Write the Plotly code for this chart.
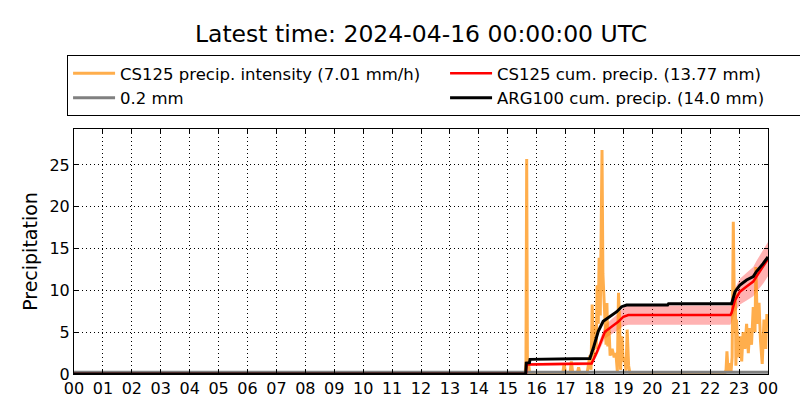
import plotly.graph_objects as go

# ---- data (hours since 2024-04-15 00:00 UTC) ----
int_t = [0, 15.60, 15.63, 15.655, 15.68, 15.72, 15.76, 16.90, 16.95, 17.00, 17.15, 17.20, 17.25,
         17.40, 17.45, 17.50, 17.74, 17.78, 17.84, 17.88, 17.92, 17.97, 18.01, 18.06, 18.09,
         18.13, 18.16, 18.20, 18.26, 18.29, 18.33, 18.36, 18.40, 18.43, 18.46, 18.50, 18.54,
         18.61, 18.68, 18.74, 18.79, 18.83, 18.87, 18.90, 18.95, 18.99, 19.04, 19.09, 19.13,
         19.18, 19.23, 22.50, 22.55, 22.58, 22.62, 22.68, 22.72, 22.76, 22.80, 22.83, 22.85,
         22.87, 22.89, 22.91, 22.97, 23.03, 23.09, 23.14, 23.20, 23.26, 23.32, 23.37, 23.43,
         23.49, 23.55, 23.58, 23.63, 23.69, 23.74, 23.80, 23.86, 23.92, 23.96, 24.0]
int_v = [0, 0, 1.5, 25.7, 1.5, 1.2, 0, 0, 1.3, 0, 0, 1.5, 0,
         0, 0.8, 0, 0, 0.8, 2.2, 0.5, 8.3, 2.0, 5.7, 3.0, 10.6,
         6.0, 13.9, 7.0, 26.8, 12.0, 9.2, 5.7, 3.5, 8.5, 3.3, 5.5, 2.2,
         3.0, 2.0, 2.5, 0.3, 9.7, 6.0, 0.5, 4.5, 1.5, 2.0, 0.4, 5.3,
         1.0, 0, 0, 0.5, 2.7, 0.3, 1.3, 0.2, 2.0, 18.2, 10.0, 4.9,
         10.0, 1.0, 6.5, 2.0, 4.5, 1.5, 5.0, 3.0, 6.0, 2.5, 5.5, 3.5,
         8.0, 5.0, 12.8, 6.0, 8.5, 4.0, 1.2, 6.5, 3.0, 7.0, 7.01]

cs_t = [0, 15.63, 15.66, 17.90, 18.07, 18.25, 18.36, 18.59, 18.82, 19.00, 19.17, 22.70,
        22.74, 22.86, 23.03, 23.26, 23.49, 23.60, 23.83, 24.0]
cs_v = [0, 0, 1.15, 1.25, 2.5, 4.1, 5.05, 5.65, 6.25, 6.85, 7.05, 7.05,
        7.3, 8.85, 9.85, 10.45, 11.05, 11.65, 12.85, 13.77]
cs_lo = [0, 0, 0.97, 1.05, 2.1, 3.45, 4.25, 4.75, 5.25, 5.75, 5.9, 5.9,
         6.15, 7.45, 8.3, 8.8, 9.3, 9.8, 10.8, 11.7]
cs_hi = [0, 0, 1.33, 1.45, 2.9, 4.75, 5.85, 6.55, 7.25, 7.95, 8.2, 8.2,
         8.45, 10.25, 11.4, 12.1, 12.8, 13.5, 14.9, 15.8]

arg_t = [0, 15.62, 15.64, 15.75, 15.77, 17.84, 17.96, 18.13, 18.30, 18.53, 18.77, 18.94,
         19.11, 20.53, 20.56, 22.74, 22.78, 22.86, 23.03, 23.26, 23.49, 23.60, 23.83, 24.0]
arg_v = [0, 0, 1.3, 1.35, 1.75, 1.85, 3.1, 5.1, 6.3, 6.85, 7.45, 8.05,
         8.25, 8.25, 8.4, 8.4, 8.85, 9.85, 10.65, 11.25, 11.65, 12.25, 13.2, 14.0]

thr_t = [0, 24]
thr_v = [0.2, 0.2]

tick_vals = list(range(25))
tick_text = ["%02d" % (h % 24) for h in range(25)]

fig = go.Figure()
# uncertainty band
fig.add_trace(go.Scatter(x=cs_t, y=cs_lo, mode="lines", line=dict(width=0),
                         showlegend=False, hoverinfo="skip"))
fig.add_trace(go.Scatter(x=cs_t, y=cs_hi, mode="lines", line=dict(width=0),
                         fill="tonexty", fillcolor="rgba(255,0,0,0.3)",
                         showlegend=False, hoverinfo="skip"))
fig.add_trace(go.Scatter(x=int_t, y=int_v, mode="lines",
                         line=dict(color="rgba(255,140,0,0.7)", width=3),
                         name="CS125 precip. intensity (7.01 mm/h)", legendrank=1))
fig.add_trace(go.Scatter(x=thr_t, y=thr_v, mode="lines",
                         line=dict(color="gray", width=3),
                         name="0.2 mm", legendrank=3))
fig.add_trace(go.Scatter(x=cs_t, y=cs_v, mode="lines",
                         line=dict(color="red", width=2.5),
                         name="CS125 cum. precip. (13.77 mm)", legendrank=2))
fig.add_trace(go.Scatter(x=arg_t, y=arg_v, mode="lines",
                         line=dict(color="black", width=3),
                         name="ARG100 cum. precip. (14.0 mm)", legendrank=4))

axis_common = dict(showline=True, linecolor="black", linewidth=1, mirror="ticks",
                   ticks="inside", ticklen=4, tickcolor="black",
                   showgrid=True, gridcolor="black", gridwidth=1, griddash="1px,3px",
                   zeroline=False, tickfont=dict(size=16, color="black",
                                                 family="DejaVu Sans"))
fig.update_xaxes(range=[0, 24], tickvals=tick_vals, ticktext=tick_text, **axis_common)
fig.update_yaxes(range=[0, 29.3], tickvals=[0, 5, 10, 15, 20, 25],
                 title=dict(text="Precipitation", font=dict(size=19, color="black",
                                                           family="DejaVu Sans"),
                            standoff=6),
                 **axis_common)

fig.update_layout(
    width=800, height=420,
    margin=dict(l=74, r=32, t=129, b=46, autoexpand=False),
    plot_bgcolor="white", paper_bgcolor="white",
    font=dict(family="DejaVu Sans", color="black"),
    title=dict(text="Latest time: 2024-04-16 00:00:00 UTC", x=0.5, xref="paper",
               y=1 - 34 / 420, yref="container", yanchor="middle",
               font=dict(size=23.5, color="black", family="DejaVu Sans")),
    legend=dict(orientation="h", x=-0.01, xanchor="left", y=1.302, yanchor="top",
                yref="paper", entrywidth=320, entrywidthmode="pixels", itemwidth=42,
                bordercolor="black", borderwidth=1, bgcolor="white",
                font=dict(size=16.5, color="black", family="DejaVu Sans"),
                traceorder="normal"),
    showlegend=True,
)

fig.write_html("out.html", config={"displayModeBar": False},
               post_script="document.body.style.margin='0px';document.body.style.padding='0px';")
